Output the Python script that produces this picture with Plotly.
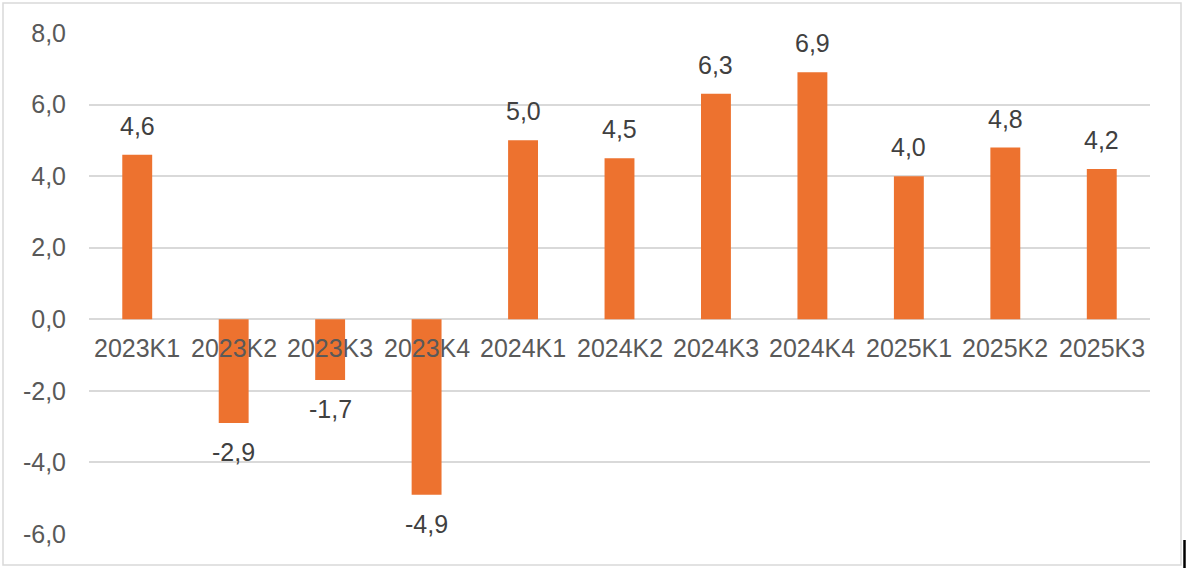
import plotly.graph_objects as go

categories = ["2023K1", "2023K2", "2023K3", "2023K4", "2024K1", "2024K2",
              "2024K3", "2024K4", "2025K1", "2025K2", "2025K3"]
values = [4.6, -2.9, -1.7, -4.9, 5.0, 4.5, 6.3, 6.9, 4.0, 4.8, 4.2]
y_ticks = [-6, -4, -2, 0, 2, 4, 6, 8]
y_tick_text = [f"{t:.1f}".replace(".", ",") for t in y_ticks]

BAR = "#ED722F"
GRID = "#D9D9D9"
FONT = "Liberation Sans, Arial, sans-serif"
FS = 25

fig = go.Figure()
fig.add_trace(go.Bar(x=categories, y=values, marker=dict(color=BAR, line=dict(width=0)),
                     width=0.31, hoverinfo="x+y"))

annotations = []
for c, v in zip(categories, values):
    annotations.append(dict(x=c, y=v, xref="x", yref="y", text=f"{v:.1f}".replace(".", ","),
                            showarrow=False, yanchor="middle", yshift=29 if v >= 0 else -29,
                            font=dict(size=FS, color="#404040", family=FONT)))
    annotations.append(dict(x=c, y=0, xref="x", yref="y", text=c, showarrow=False,
                            yanchor="middle", yshift=-29,
                            font=dict(size=FS, color="#595959", family=FONT)))

L, R, T, B = 89, 36, 33, 34
W, H = 1186, 568
pw, ph = W - L - R, H - T - B

def px(x):
    return (x - L) / pw

def py(y):
    return (H - B - y) / ph

shapes = [
    dict(type="rect", xref="paper", yref="paper", x0=px(3), x1=px(1181), y0=py(565), y1=py(3),
         line=dict(color=GRID, width=1.5), fillcolor="rgba(0,0,0,0)", layer="below"),
    dict(type="line", xref="paper", yref="paper", x0=px(1184.5), x1=px(1184.5), y0=py(568), y1=py(540),
         line=dict(color="#000000", width=2.5)),
]

fig.update_layout(
    width=W, height=H,
    margin=dict(l=L, r=R, t=T, b=B, pad=0),
    paper_bgcolor="white", plot_bgcolor="white",
    showlegend=False,
    bargap=0.69,
    font=dict(family=FONT, size=FS, color="#595959"),
    xaxis=dict(showticklabels=False, showgrid=False, zeroline=False, showline=False,
               ticks="", range=[-0.5, len(categories) - 0.5]),
    yaxis=dict(range=[-6, 8], tickvals=y_ticks, ticktext=y_tick_text, showgrid=True,
               gridcolor=GRID, gridwidth=1.5, zeroline=True, zerolinecolor=GRID, zerolinewidth=1.5,
               showline=False, ticks="", ticklabelstandoff=22,
               tickfont=dict(size=FS, color="#595959", family=FONT)),
    annotations=annotations,
    shapes=shapes,
)

fig.write_html("out.html", config={"displayModeBar": False},
               post_script="document.body.style.margin='0';document.body.style.overflow='hidden';")
